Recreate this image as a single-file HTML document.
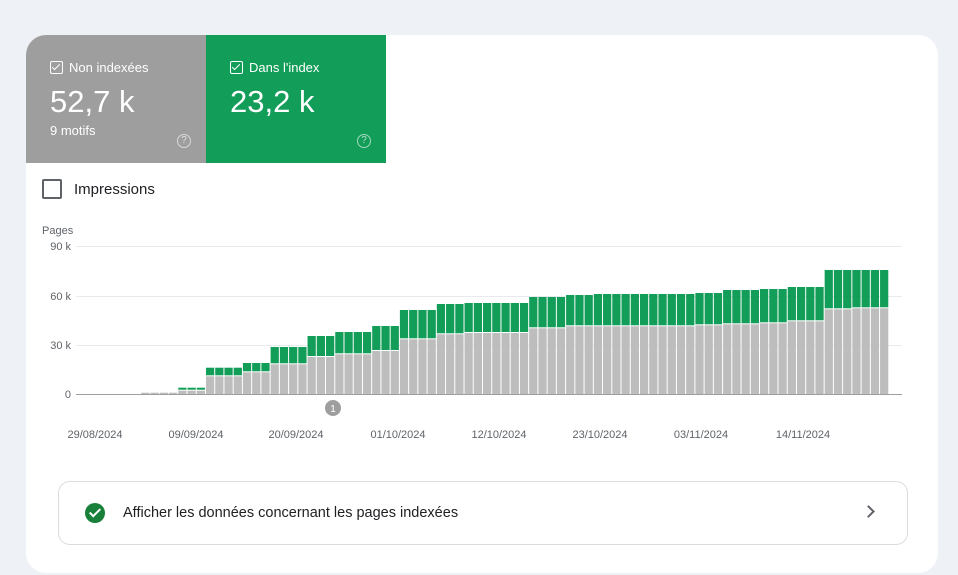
<!DOCTYPE html>
<html><head><meta charset="utf-8">
<style>
body{margin:0;width:958px;height:575px;background:#eef2f7;font-family:"Liberation Sans",sans-serif;overflow:hidden;position:relative}
.card{position:absolute;left:26px;top:35px;width:912px;height:538px;background:#fff;border-radius:20px;overflow:hidden}
.tile{position:absolute;top:0;width:180px;height:128px;color:#fff}
.t1{left:0;background:#9e9e9e}
.t2{left:180px;background:#129d58}
.lab{position:absolute;left:24px;top:25px;font-size:13px;display:flex;align-items:center}
.cb{width:11px;height:11px;border:1px solid #fff;border-radius:2px;margin-right:6px;position:relative}
.cb:after{content:"";position:absolute;left:3px;top:0px;width:3px;height:7px;border:solid #fff;border-width:0 1.5px 1.5px 0;transform:rotate(45deg)}
.num{position:absolute;left:24px;top:49px;font-size:31px}
.sub{position:absolute;left:24px;top:88px;font-size:13px}
.q{position:absolute;left:151px;top:99px;width:12px;height:12px;border:1.5px solid rgba(255,255,255,.6);border-radius:50%;font-size:10px;line-height:12px;text-align:center;color:rgba(255,255,255,.7)}
.imp{position:absolute;left:16px;top:144px;display:flex;align-items:center;font-size:15px;color:#202124}
.imp .box{width:16px;height:16px;border:2px solid #5f6368;border-radius:2px;margin-right:12px}
.btn{position:absolute;left:32px;top:446px;width:850px;height:64px;border:1px solid #dadce0;border-radius:12px;box-sizing:border-box}
.btn .ok{position:absolute;left:26px;top:21px;width:20px;height:20px;border-radius:50%;background:#188038}
.btn .ok:after{content:"";position:absolute;left:7px;top:3px;width:4px;height:9px;border:solid #fff;border-width:0 2.5px 2.5px 0;transform:rotate(45deg)}
.btn .t{position:absolute;left:64px;top:23px;font-size:14.5px;color:#202124}
.btn .ch{position:absolute;right:34px;top:25px;width:7px;height:7px;border:solid #5f6368;border-width:2px 2px 0 0;transform:rotate(45deg)}
</style></head><body>
<div class="card">
<div class="tile t1"><div class="lab"><span class="cb"></span>Non indexées</div><div class="num">52,7 k</div><div class="sub">9 motifs</div><div class="q">?</div></div>
<div class="tile t2"><div class="lab"><span class="cb"></span>Dans l'index</div><div class="num">23,2 k</div><div class="q">?</div></div>
<div class="imp"><span class="box"></span>Impressions</div>
<div class="btn"><span class="ok"></span><span class="t">Afficher les données concernant les pages indexées</span><span class="ch"></span></div>
</div>
<svg id="c" style="position:absolute;left:0;top:0" width="958" height="575" font-family="Liberation Sans, sans-serif">
<text x="42" y="234" font-size="11" fill="#5f6368">Pages</text>
<g stroke="#e8eaed" stroke-width="1">
<line x1="76" y1="246.5" x2="902" y2="246.5"/><line x1="76" y1="296.5" x2="902" y2="296.5"/><line x1="76" y1="345.5" x2="902" y2="345.5"/>
</g>
<g font-size="11" fill="#5f6368" text-anchor="end">
<text x="71" y="250">90 k</text><text x="71" y="300">60 k</text><text x="71" y="349">30 k</text><text x="71" y="398">0</text>
</g>
<g id="bars"></g>
<line x1="76" y1="394.5" x2="902" y2="394.5" stroke="#9e9e9e"/>
<circle cx="333" cy="408" r="8" fill="#9e9e9e"/><text x="333" y="412" font-size="10" fill="#fff" text-anchor="middle">1</text>
<g font-size="11" fill="#5f6368" text-anchor="middle">
<text x="95" y="438">29/08/2024</text><text x="196" y="438">09/09/2024</text><text x="296" y="438">20/09/2024</text><text x="398" y="438">01/10/2024</text><text x="499" y="438">12/10/2024</text><text x="600" y="438">23/10/2024</text><text x="701" y="438">03/11/2024</text><text x="803" y="438">14/11/2024</text>
</g>
</svg>
<script>
var g=[[3,394,394],[4,393,393],[4,391.7,391.7],[3,389.7,387.7],[4,375.3,367.7],[3,371.3,363],[4,363.3,347],[3,356,336],[4,353.3,332],[3,350,326],[4,338.3,310],[3,333.3,304],[7,332,303],[4,327.3,297],[3,325.3,295],[11,325.3,294],[3,324.3,293],[4,323.3,290],[3,322.3,289],[4,320.3,287],[3,308.3,270],[4,307.3,270]];
var s='',i=0,x0=76.7,w=9.234,B=394.5;
g.forEach(function(a){for(var k=0;k<a[0];k++){var x=x0+i*w;
s+='<rect x="'+x+'" y="'+a[2]+'" width="'+(w-1)+'" height="'+(a[1]-a[2])+'" fill="#129d58"/>';
s+='<rect x="'+x+'" y="'+(a[1]+ (a[1]<B-1?1:0))+'" width="'+(w-1)+'" height="'+Math.max(0.5,B-a[1]-1)+'" fill="#bdbdbd"/>';i++;}});
document.getElementById('bars').innerHTML=s;
</script>
</body></html>
